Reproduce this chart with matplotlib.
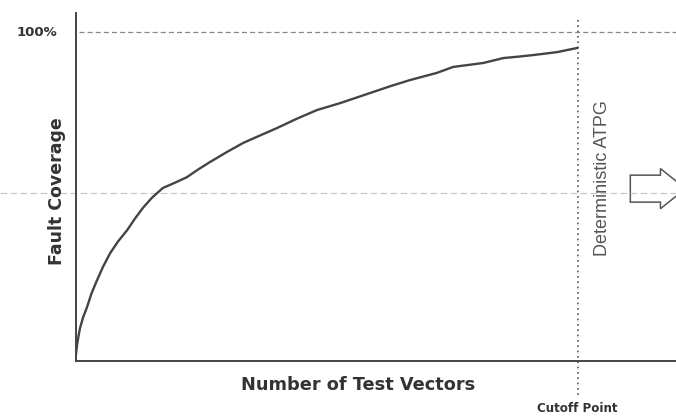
import matplotlib.pyplot as plt
from matplotlib.patches import FancyArrow

# Fault coverage curve (test vectors scaled so the cutoff point is at 1000)
vectors = [0, 1, 3, 6, 9, 15, 23, 32, 43, 55, 69, 85, 103, 118, 134, 152, 174,
           198, 222, 245, 268, 300, 334, 368, 401, 440, 481, 527, 560, 593,
           630, 666, 720, 752, 782, 812, 852, 880, 911, 959, 1000]
coverage = [0, 2.2, 4.8, 7.6, 10.0, 13.2, 16.4, 20.6, 24.6, 28.7, 32.8, 36.4,
            39.8, 43.2, 46.5, 49.6, 52.6, 54.2, 55.9, 58.3, 60.5, 63.4, 66.3,
            68.6, 70.8, 73.6, 76.3, 78.4, 80.1, 81.8, 83.7, 85.4, 87.6, 89.4,
            90.0, 90.6, 92.1, 92.5, 93.0, 93.9, 95.2]

cutoff = 1000
full_coverage = 100
mid_level = 51.1

ink = '#333333'

fig = plt.figure(figsize=(6.76, 4.16), dpi=100)
ax = fig.add_axes([75.5 / 676, 55 / 416, 600.5 / 676, 348 / 416])
ax.set_xlim(0, 1196)
ax.set_ylim(0, 105.8)

for side in ['top', 'right']:
    ax.spines[side].set_visible(False)
for side in ['left', 'bottom']:
    ax.spines[side].set_color('#444444')
    ax.spines[side].set_linewidth(1.4)
ax.set_xticks([])
ax.set_yticks([])

# reference lines
ax.axhline(full_coverage, xmin=0.005, xmax=1, color='#888888', lw=0.9,
           ls=(0, (4, 2.5)))
ax.axhline(mid_level, xmin=-75.5 / 600.5, xmax=1, color='#c4c4c4', lw=0.8,
           ls=(0, (6, 3)), clip_on=False)
ax.plot([cutoff, cutoff], [-10.3, 104.3], color='#555555', lw=1.2,
        ls=(0, (1, 2.2)), clip_on=False)

# the curve
ax.plot(vectors, coverage, color='#444444', lw=1.7, solid_capstyle='round',
        solid_joinstyle='round')

# labels
ax.text(-37, full_coverage, '100%', ha='right', va='center', fontsize=9.5,
        fontweight='bold', color=ink)
ax.text(-37, 51.5, 'Fault Coverage', rotation=90, ha='center', va='center',
        fontsize=12.5, fontweight='bold', color=ink)
ax.text(562, -7.3, 'Number of Test Vectors', ha='center', va='center',
        fontsize=12.8, fontweight='bold', color=ink)
ax.text(cutoff, -14.3, 'Cutoff Point', ha='center', va='center',
        fontsize=8.6, fontweight='bold', color=ink)
ax.text(1049, 55.5, 'Deterministic ATPG', rotation=90, ha='center',
        va='center', fontsize=13, family='Liberation Sans', color='#555555')

# arrow pointing right
arrow = FancyArrow(1105, 52.4, 60, 0, width=8.2, head_width=12.2,
                   head_length=50, length_includes_head=False,
                   facecolor='white', edgecolor='#555555', lw=1.1,
                   clip_on=False)
ax.add_patch(arrow)

fig.savefig('out.png', dpi=100)
